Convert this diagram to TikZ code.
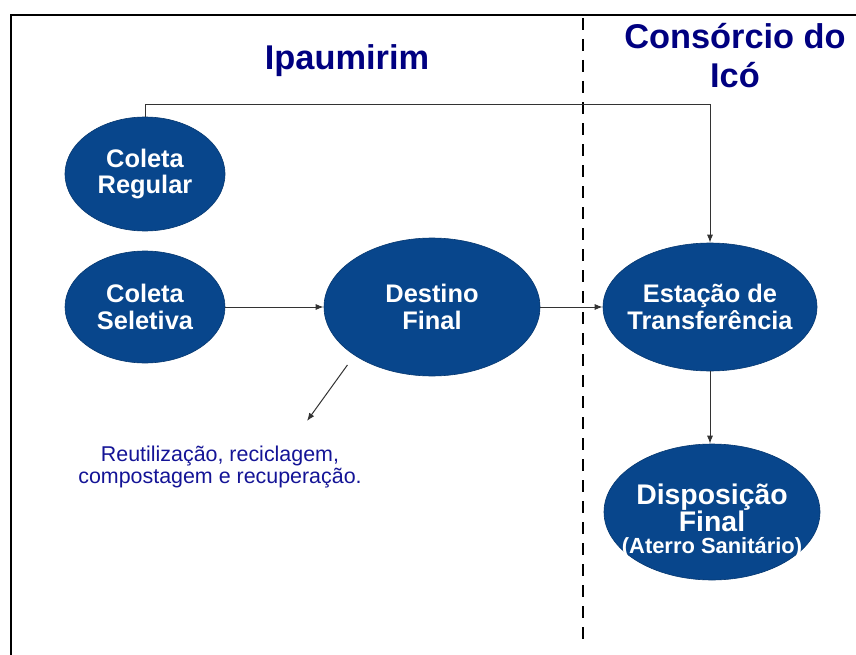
\documentclass[tikz,border=0pt]{standalone}
\usepackage{fontspec}
\setmainfont{Liberation Sans}
\usetikzlibrary{shapes.geometric,arrows.meta}
\definecolor{elblue}{RGB}{8,70,140}
\definecolor{titblue}{RGB}{0,0,128}
\definecolor{txtblue}{RGB}{20,20,150}
\tikzset{
	elip/.style 2 args={ellipse,fill=elblue,draw=elblue!80!black,line width=0.6bp,text=white,align=center,
		inner xsep=-25bp,inner ysep=0pt,font=\bfseries\fontsize{25.5}{27}\selectfont,minimum width=#1,minimum height=#2},
	conn/.style={draw=black!80,line width=1bp},
	arr/.style={conn,-{Latex[length=8bp,width=6bp]}},
	titl/.style={text=titblue,align=center,font=\bfseries\fontsize{34.5}{40}\selectfont},
	txt/.style={text=txtblue,align=center,font=\fontsize{21.5}{22}\selectfont}
}

\begin{document}
\begin{tikzpicture}[x=1bp,y=-1bp]
	\useasboundingbox (0,0) rectangle (856,655);
	\draw[line width=2.5bp] (856,15) -- (11,15) -- (11,655);
	\draw[line width=2bp,dash pattern=on 12bp off 9bp] (583,18) -- (583,640);

	\node [titl,anchor=base] (ipa) at (347,70) {Ipaumirim};
	\node [titl,anchor=base] (ico) at (735,88) {Consórcio do\\Icó};

	\node [elip={160bp}{114bp}] (reg) at (145,174) {Coleta\\Regular};
	\node [elip={160bp}{112bp}] (sel) at (145,307) {Coleta\\Seletiva};
	\node [elip={216bp}{138bp}] (dest) at (432,307) {Destino\\Final};
	\node [elip={214bp}{128bp}] (est) at (710,307) {Estação de\\Transferência};
	\node [elip={216bp}{136bp},inner ysep=-12bp,font=\bfseries\fontsize{28.5}{27}\selectfont] (disp) at (712,512)
		{\rule{0pt}{38bp}Disposição\\Final\\[-5bp]{\fontsize{22}{21}\selectfont (Aterro Sanitário)}};

	\node [txt] (reuso) at (220,467) {Reutilização, reciclagem,\\compostagem e recuperação.};
	\coordinate (rtip) at (307,421);

	\draw[arr] (reg.north) -- ++(0,-12) -| (est.north);
	\draw[arr] (sel.east) -- (dest.west);
	\draw[arr] (dest.east) -- (est.west);
	\draw[arr] (est.south) -- (est.south |- disp.north);
	\draw[arr] ([shift={(-8,9)}]dest.south west) -- (rtip);
\end{tikzpicture}
\end{document}
